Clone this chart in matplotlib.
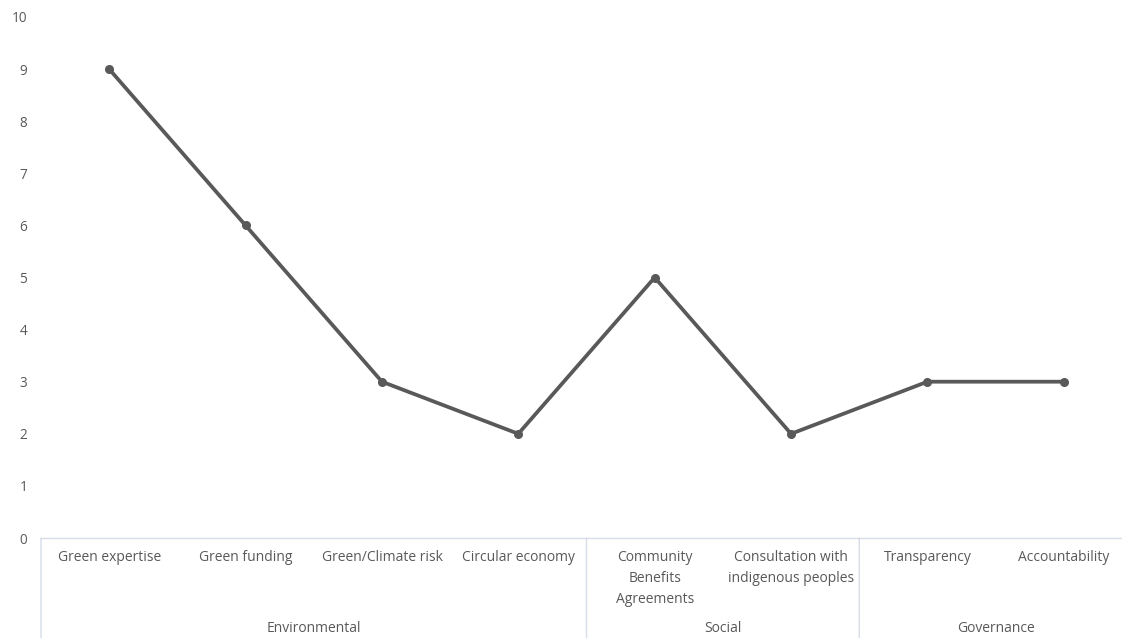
import matplotlib
matplotlib.use("Agg")
import matplotlib.pyplot as plt

plt.rcParams['font.family'] = ['Open Sans', 'DejaVu Sans']

categories = [
    "Green expertise", "Green funding", "Green/Climate risk", "Circular economy",
    "Community\nBenefits\nAgreements", "Consultation with\nindigenous peoples",
    "Transparency", "Accountability",
]
values = [9, 6, 3, 2, 5, 2, 3, 3]
groups = ["Environmental", "Social", "Governance"]
group_sizes = [4, 2, 2]
y_ticks = list(range(0, 11))

TEXT = "#595959"
LINE = "#595959"
RULE = "#d6dce8"

W, H = 1122, 638
fig = plt.figure(figsize=(W / 100, H / 100), dpi=100)
ax = fig.add_axes([41 / W, 100 / H, 1091 / W, 521 / H])

x = list(range(len(categories)))
ax.plot(x, values, color=LINE, linewidth=2.7, marker="o", markersize=5.5,
        solid_capstyle="round", solid_joinstyle="round", zorder=3)

ax.set_xlim(-0.5, len(categories) - 0.5)
ax.set_ylim(0, 10)
ax.set_yticks(y_ticks)
ax.set_yticklabels([str(t) for t in y_ticks], color=TEXT, fontsize=9.8)
ax.tick_params(axis="y", length=0, pad=10)
ax.set_xticks([])

for side in ["top", "right", "left"]:
    ax.spines[side].set_visible(False)
ax.spines["bottom"].set_color(RULE)
ax.spines["bottom"].set_linewidth(1.0)

trans = ax.get_xaxis_transform()

# category labels under the axis
for xi, lab in zip(x, categories):
    ax.annotate(lab, xy=(xi, 0), xycoords=trans, xytext=(0, -8.5),
                textcoords="offset points", ha="center", va="top",
                fontsize=10, color=TEXT, linespacing=1.55, annotation_clip=False)

# group separators and group names
start = 0
bounds = [-0.5]
for g, n in zip(groups, group_sizes):
    center = start + (n - 1) / 2
    ax.annotate(g, xy=(center, 0), xycoords=trans, xytext=(0, -65.5),
                textcoords="offset points", ha="center", va="center",
                fontsize=10, color=TEXT, annotation_clip=False)
    start += n
    bounds.append(start - 0.5)

for b in bounds:
    ax.annotate("", xy=(b, 0), xycoords=trans, xytext=(0, -80),
                textcoords="offset points", annotation_clip=False,
                arrowprops=dict(arrowstyle="-", color=RULE, linewidth=1.0,
                                shrinkA=0, shrinkB=0))

fig.savefig("out.png", dpi=100)
